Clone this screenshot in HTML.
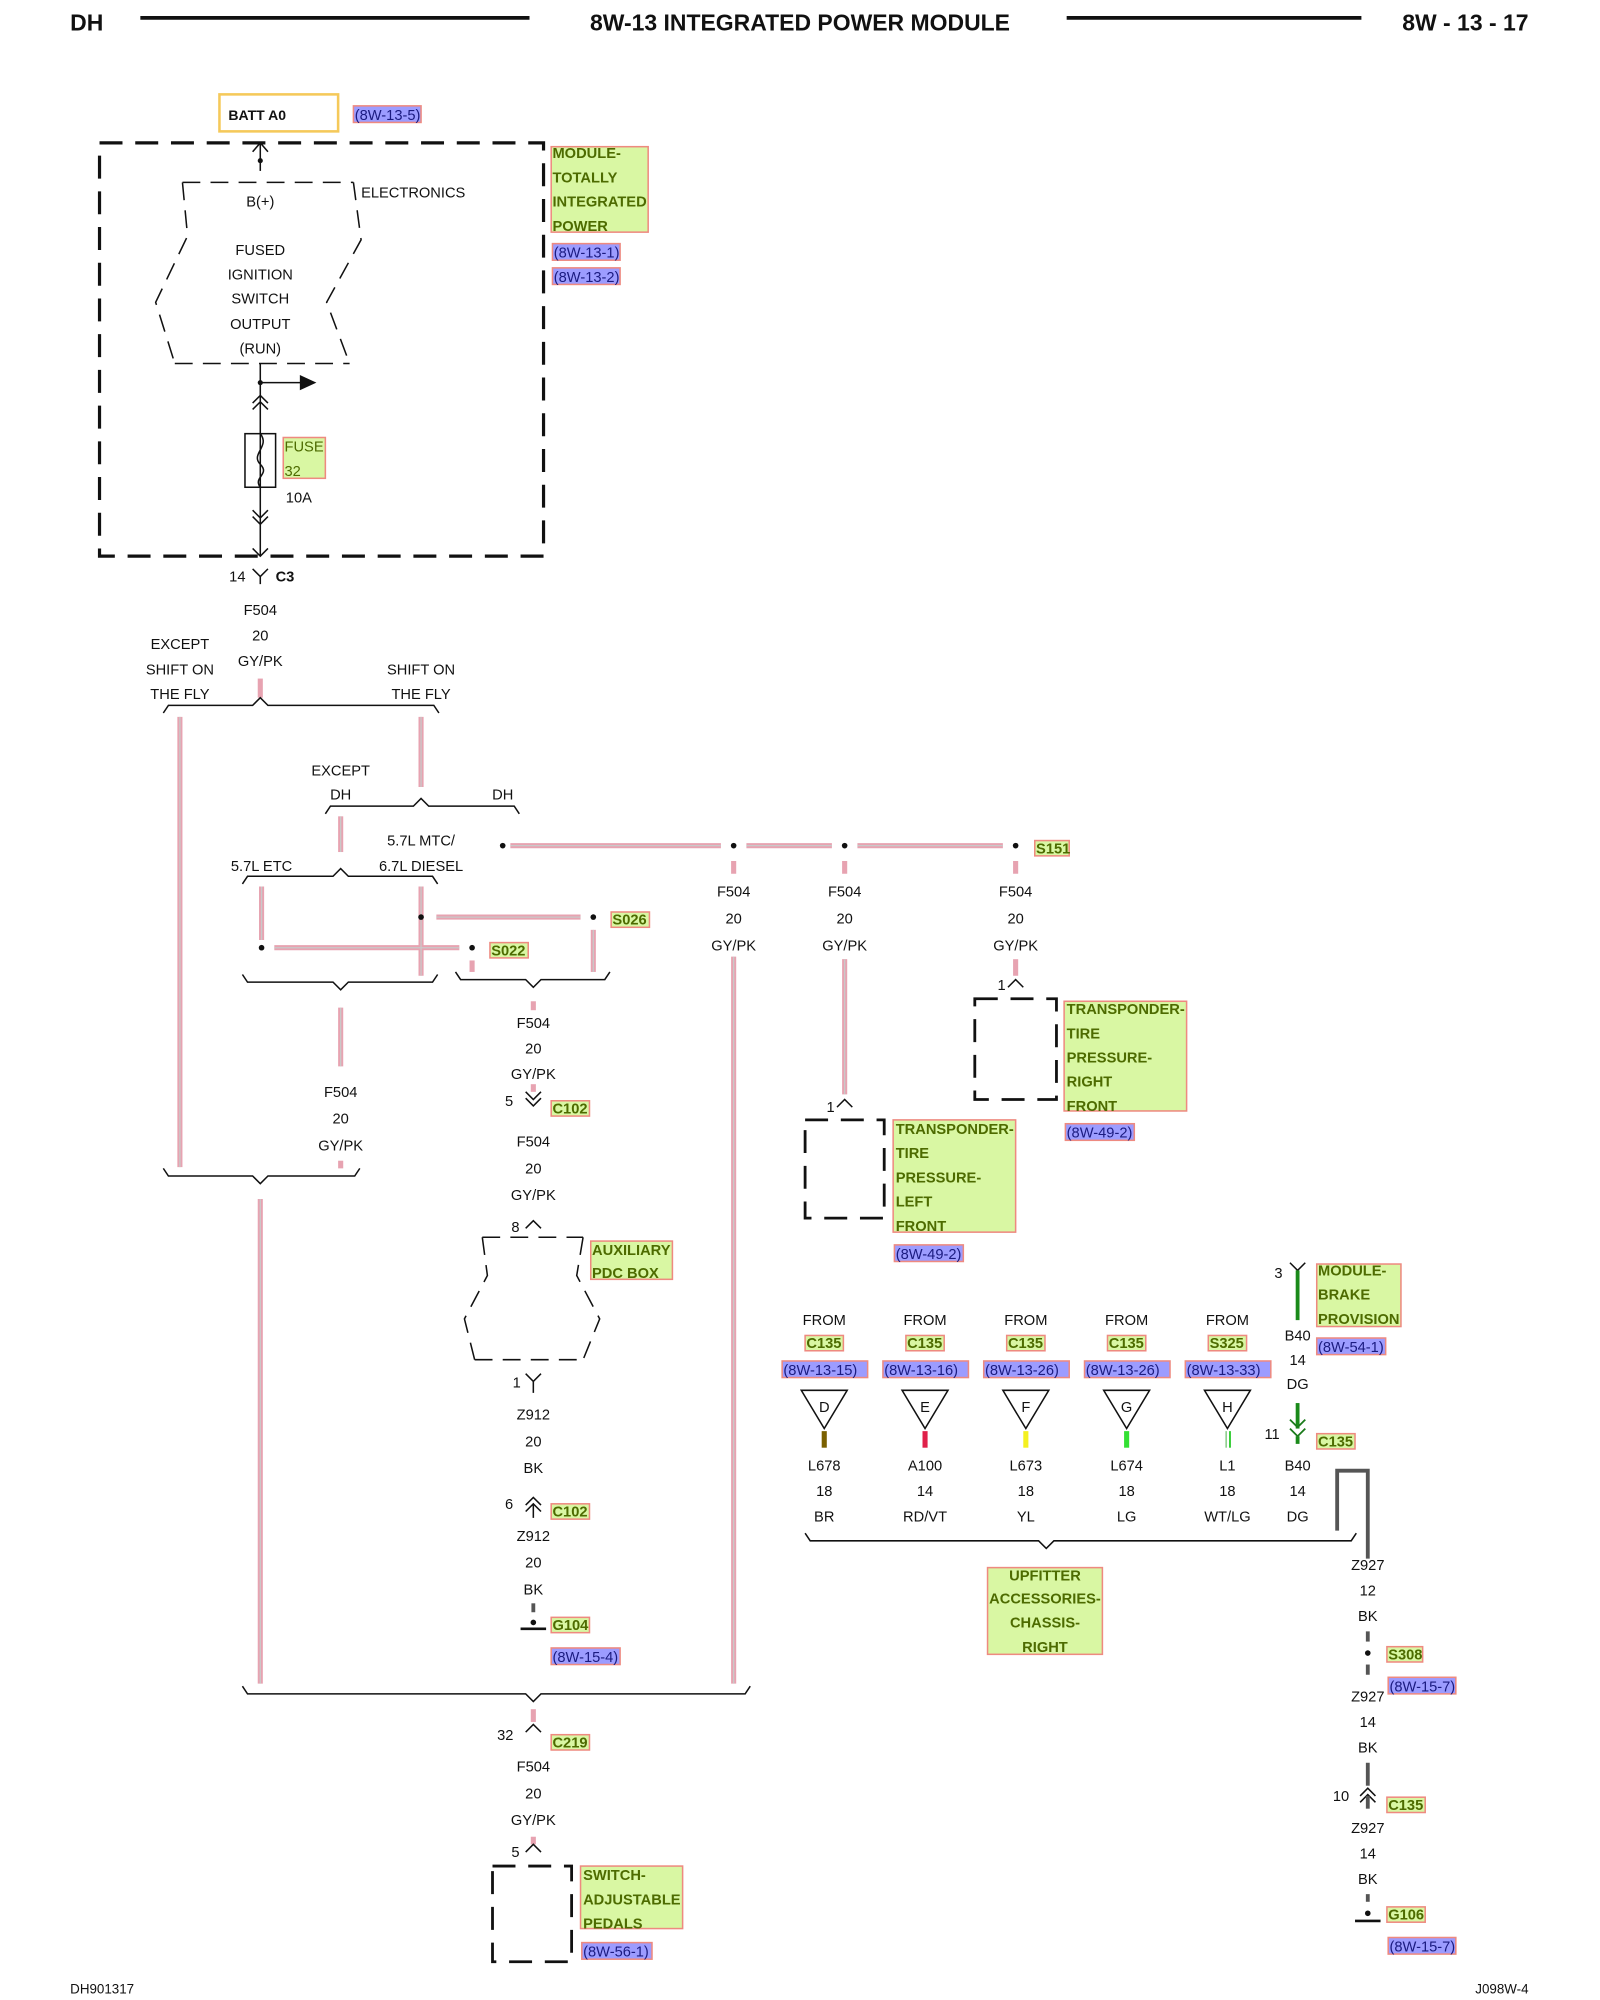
<!DOCTYPE html>
<html><head><meta charset="utf-8"><style>
html,body{margin:0;padding:0;background:#fff;}
svg{display:block}
text{font-family:"Liberation Sans",sans-serif;font-size:11.5px;fill:#111;text-anchor:middle}
.l{text-anchor:start}
.hd{font-size:18px;font-weight:bold}
.g{fill:#d9f7a3;stroke:#ee8a80;stroke-width:1.2}
.gt{fill:#4d6b00;font-weight:bold;text-anchor:start}
.b{fill:#9c9cff;stroke:#ee8a80;stroke-width:1.2}
.bt{fill:#1b1b80;text-anchor:start}
.w{stroke:#e7a3b1;stroke-width:4;fill:none}
.wc{stroke:#c9c9c9;stroke-width:1;fill:none}
.k{stroke:#111;stroke-width:1.2;fill:none}
.d{stroke:#111;stroke-width:2.5;fill:none;stroke-dasharray:18 10}
.ds{stroke:#111;stroke-width:1.2;fill:none;stroke-dasharray:14 8}
</style></head><body>
<svg width="1600" height="2000" viewBox="0 0 1254 1568" preserveAspectRatio="none">
<!-- header -->
<text class="hd l" x="55" y="24">DH</text>
<line x1="110" y1="14" x2="415" y2="14" stroke="#111" stroke-width="3"/>
<text class="hd" x="627" y="24">8W-13 INTEGRATED POWER MODULE</text>
<line x1="836" y1="14" x2="1067" y2="14" stroke="#111" stroke-width="3"/>
<text class="hd" x="1198" y="24" style="text-anchor:end">8W - 13 - 17</text>

<!-- BATT -->
<rect x="172" y="74" width="93" height="29" fill="#fff" stroke="#f5c95a" stroke-width="2"/>
<text class="l" x="179" y="94" style="font-weight:bold;font-size:11px">BATT A0</text>
<rect class="b" x="277" y="83" width="53" height="13"/><text class="bt" x="278" y="94">(8W-13-5)</text>

<rect class="d" x="78" y="112" width="348" height="324"/>
<line class="k" x1="204" y1="112" x2="204" y2="134"/>
<path class="k" d="M198,119 L204,112 L210,119"/>
<circle cx="204" cy="126" r="2" fill="#111"/>
<path class="ds" d="M143,143 L277,143 M277,143 L283,188 L256,237 L274,285 M143,143 L147,185 L122,237 L137,285 M137,285 L274,285"/>
<text x="204" y="162">B(+)</text>
<text class="l" x="283" y="155">ELECTRONICS</text>
<text x="204" y="200">FUSED</text><text x="204" y="219">IGNITION</text><text x="204" y="238">SWITCH</text><text x="204" y="258">OUTPUT</text><text x="204" y="277">(RUN)</text>
<line class="k" x1="204" y1="285" x2="204" y2="436"/>
<circle cx="204" cy="300" r="2" fill="#111"/>
<line class="k" x1="204" y1="300" x2="236" y2="300"/><path d="M235,294 L248,300 L235,306Z" fill="#111"/>
<path class="k" d="M198,316 L204,310 L210,316 M198,321 L204,315 L210,321"/>
<rect class="k" x="192" y="340" width="24" height="42" fill="#fff"/>
<path class="k" d="M204,340 C212,350 196,356 204,364 C212,372 198,374 204,382"/>
<rect class="g" x="222" y="343" width="33" height="32"/><text class="gt" x="223" y="354" style="font-weight:normal">FUSE</text><text class="gt" x="223" y="373" style="font-weight:normal">32</text>
<text class="l" x="224" y="394">10A</text>
<path class="k" d="M198,400 L204,406 L210,400 M198,405 L204,411 L210,405 M198,430 L204,436 L210,430"/>
<rect class="g" x="432" y="115" width="76" height="67"/>
<text class="gt" x="433" y="124">MODULE-</text><text class="gt" x="433" y="143">TOTALLY</text><text class="gt" x="433" y="162">INTEGRATED</text><text class="gt" x="433" y="181">POWER</text>
<rect class="b" x="433" y="191" width="53" height="13"/><text class="bt" x="434" y="202">(8W-13-1)</text>
<rect class="b" x="433" y="210" width="53" height="13"/><text class="bt" x="434" y="221">(8W-13-2)</text>

<!-- C3 -->
<text x="186" y="456">14</text>
<path class="k" d="M198,446 L204,452 L210,446 M204,452 L204,458"/>
<text class="l" x="216" y="456" style="font-weight:bold">C3</text>
<text x="204" y="482">F504</text><text x="204" y="502">20</text><text x="204" y="522">GY/PK</text>

<!-- wires -->
<g class="w">
<path d="M204,532 V547"/>
<path d="M141,562 V915"/>
<path d="M330,562 V617"/>
<path d="M267,640 V668"/>
<path d="M205,695 V737"/>
<path d="M330,695 V765"/>
<path d="M400,663 H565 M585,663 H652 M672,663 H786"/>
<path d="M342,719 H455"/>
<path d="M215,743 H360"/>
<path d="M465,729 V762"/>
<path d="M370,753 V762"/>
<path d="M267,790 V836"/>
<path d="M267,910 V916"/>
<path d="M418,785 V792"/>
<path d="M418,850 V856"/>
<path d="M575,675 V685 M662,675 V685 M796,675 V685"/>
<path d="M575,750 V1320"/>
<path d="M662,752 V858"/>
<path d="M796,752 V765"/>
<path d="M204,940 V1320"/>
<path d="M418,1340 V1350"/>
<path d="M418,1440 V1446"/>
</g>
<g class="wc">
<path d="M141,562 V915 M330,562 V617 M267,640 V668 M205,695 V737 M330,695 V765 M400,663 H565 M585,663 H652 M672,663 H786 M342,719 H455 M215,743 H360 M465,729 V762 M267,790 V836 M575,750 V1320 M662,752 V858 M204,940 V1320"/>
</g>

<!-- brackets -->
<g class="k">
<path d="M128,559 L132,553 L198,553 L204,547 L210,553 L340,553 L344,559"/>
<path d="M255,638 L259,632 L324,632 L330,626 L336,632 L403,632 L407,638"/>
<path d="M190,693 L194,687 L261,687 L267,681 L273,687 L339,687 L343,693"/>
<path d="M190,764 L194,770 L261,770 L267,776 L273,770 L339,770 L343,764"/>
<path d="M357,762 L361,768 L412,768 L418,774 L424,768 L474,768 L478,762"/>
<path d="M128,916 L132,922 L198,922 L204,928 L210,922 L278,922 L282,916"/>
<path d="M190,1322 L194,1328 L412,1328 L418,1334 L424,1328 L584,1328 L588,1322"/>
<path d="M631,1202 L635,1208 L814,1208 L820,1214 L826,1208 L1059,1208 L1063,1202"/>
</g>
<text x="141" y="509">EXCEPT</text><text x="141" y="529">SHIFT ON</text><text x="141" y="548">THE FLY</text>
<text x="330" y="529">SHIFT ON</text><text x="330" y="548">THE FLY</text>
<text x="267" y="608">EXCEPT</text><text x="267" y="627">DH</text><text x="394" y="627">DH</text>
<text x="205" y="683">5.7L ETC</text><text x="330" y="663">5.7L MTC/</text><text x="330" y="683">6.7L DIESEL</text>

<g fill="#111">
<circle cx="394" cy="663" r="2.2"/><circle cx="575" cy="663" r="2.2"/><circle cx="662" cy="663" r="2.2"/><circle cx="796" cy="663" r="2.2"/>
<circle cx="330" cy="719" r="2.2"/><circle cx="465" cy="719" r="2.2"/>
<circle cx="205" cy="743" r="2.2"/><circle cx="370" cy="743" r="2.2"/>
</g>
<rect class="g" x="811" y="659" width="27" height="12"/><text class="gt" x="812" y="669">S151</text>
<rect class="g" x="479" y="715" width="30" height="12"/><text class="gt" x="480" y="725">S026</text>
<rect class="g" x="384" y="739" width="30" height="12"/><text class="gt" x="385" y="749">S022</text>

<text x="267" y="860">F504</text><text x="267" y="881">20</text><text x="267" y="902">GY/PK</text>

<!-- center column -->
<text x="418" y="806">F504</text><text x="418" y="826">20</text><text x="418" y="846">GY/PK</text>
<text x="399" y="867">5</text>
<path class="k" d="M412,856 L418,862 L424,856 M412,861 L418,867 L424,861"/>
<rect class="g" x="432" y="863" width="30" height="12"/><text class="gt" x="433" y="873">C102</text>
<text x="418" y="899">F504</text><text x="418" y="920">20</text><text x="418" y="941">GY/PK</text>
<text x="404" y="966">8</text>
<path class="k" d="M412,963 L418,957 L424,963"/>
<path class="ds" d="M378,970 L457,970 M378,970 L382,1000 L364,1034 L372,1066 M457,970 L452,1000 L470,1034 L457,1066 M372,1066 L457,1066"/>
<rect class="g" x="463" y="973" width="64" height="30"/><text class="gt" x="464" y="984">AUXILIARY</text><text class="gt" x="464" y="1002">PDC BOX</text>
<text x="405" y="1088">1</text>
<path class="k" d="M412,1077 L418,1083 L424,1077 M418,1083 L418,1092"/>
<text x="418" y="1113">Z912</text><text x="418" y="1134">20</text><text x="418" y="1155">BK</text>
<text x="399" y="1183">6</text>
<path class="k" d="M412,1180 L418,1174 L424,1180 M412,1185 L418,1179 L424,1185 M418,1180 V1190"/>
<rect class="g" x="432" y="1179" width="30" height="12"/><text class="gt" x="433" y="1189">C102</text>
<text x="418" y="1208">Z912</text><text x="418" y="1229">20</text><text x="418" y="1250">BK</text>
<line x1="418" y1="1257" x2="418" y2="1264" stroke="#555" stroke-width="3"/>
<circle cx="418" cy="1272" r="2.2" fill="#111"/>
<line x1="408" y1="1277" x2="428" y2="1277" stroke="#111" stroke-width="2"/>
<rect class="g" x="432" y="1268" width="30" height="12"/><text class="gt" x="433" y="1278">G104</text>
<rect class="b" x="432" y="1292" width="54" height="13"/><text class="bt" x="433" y="1303">(8W-15-4)</text>

<text x="396" y="1364">32</text>
<path class="k" d="M412,1358 L418,1352 L424,1358"/>
<rect class="g" x="432" y="1360" width="30" height="12"/><text class="gt" x="433" y="1370">C219</text>
<text x="418" y="1389">F504</text><text x="418" y="1410">20</text><text x="418" y="1431">GY/PK</text>
<text x="404" y="1456">5</text>
<path class="k" d="M412,1452 L418,1446 L424,1452"/>
<rect class="d" x="386" y="1463" width="62" height="75" style="stroke-width:2.2"/>
<rect class="g" x="455" y="1463" width="80" height="49"/>
<text class="gt" x="457" y="1474">SWITCH-</text><text class="gt" x="457" y="1493">ADJUSTABLE</text><text class="gt" x="457" y="1512">PEDALS</text>
<rect class="b" x="456" y="1523" width="55" height="13"/><text class="bt" x="457" y="1534">(8W-56-1)</text>

<!-- right branches -->
<text x="575" y="703">F504</text><text x="575" y="724">20</text><text x="575" y="745">GY/PK</text>
<text x="662" y="703">F504</text><text x="662" y="724">20</text><text x="662" y="745">GY/PK</text>
<text x="796" y="703">F504</text><text x="796" y="724">20</text><text x="796" y="745">GY/PK</text>
<text x="785" y="776">1</text>
<path class="k" d="M790,774 L796,768 L802,774"/>
<rect class="d" x="764" y="783" width="64" height="79" style="stroke-width:2.2"/>
<rect class="g" x="834" y="785" width="96" height="86"/>
<text class="gt" x="836" y="795">TRANSPONDER-</text><text class="gt" x="836" y="814">TIRE</text><text class="gt" x="836" y="833">PRESSURE-</text><text class="gt" x="836" y="852">RIGHT</text><text class="gt" x="836" y="871">FRONT</text>
<rect class="b" x="835" y="881" width="54" height="13"/><text class="bt" x="836" y="892">(8W-49-2)</text>
<text x="651" y="872">1</text>
<path class="k" d="M656,868 L662,862 L668,868"/>
<rect class="d" x="631" y="878" width="62" height="77" style="stroke-width:2.2"/>
<rect class="g" x="700" y="878" width="96" height="88"/>
<text class="gt" x="702" y="889">TRANSPONDER-</text><text class="gt" x="702" y="908">TIRE</text><text class="gt" x="702" y="927">PRESSURE-</text><text class="gt" x="702" y="946">LEFT</text><text class="gt" x="702" y="965">FRONT</text>
<rect class="b" x="701" y="976" width="54" height="13"/><text class="bt" x="702" y="987">(8W-49-2)</text>

<!-- FROM columns -->
<g>
<text x="646" y="1039">FROM</text><text x="725" y="1039">FROM</text><text x="804" y="1039">FROM</text><text x="883" y="1039">FROM</text><text x="962" y="1039">FROM</text>
<rect class="g" x="631" y="1047" width="30" height="12"/><text class="gt" x="632" y="1057">C135</text>
<rect class="g" x="710" y="1047" width="30" height="12"/><text class="gt" x="711" y="1057">C135</text>
<rect class="g" x="789" y="1047" width="30" height="12"/><text class="gt" x="790" y="1057">C135</text>
<rect class="g" x="868" y="1047" width="30" height="12"/><text class="gt" x="869" y="1057">C135</text>
<rect class="g" x="947" y="1047" width="30" height="12"/><text class="gt" x="948" y="1057">S325</text>
<rect class="b" x="613" y="1067" width="67" height="13"/><text class="bt" x="614" y="1078">(8W-13-15)</text>
<rect class="b" x="692" y="1067" width="67" height="13"/><text class="bt" x="693" y="1078">(8W-13-16)</text>
<rect class="b" x="771" y="1067" width="67" height="13"/><text class="bt" x="772" y="1078">(8W-13-26)</text>
<rect class="b" x="850" y="1067" width="67" height="13"/><text class="bt" x="851" y="1078">(8W-13-26)</text>
<rect class="b" x="929" y="1067" width="67" height="13"/><text class="bt" x="930" y="1078">(8W-13-33)</text>
<path class="k" d="M628,1090 L664,1090 L646,1120Z M707,1090 L743,1090 L725,1120Z M786,1090 L822,1090 L804,1120Z M865,1090 L901,1090 L883,1120Z M944,1090 L980,1090 L962,1120Z"/>
<text x="646" y="1107">D</text><text x="725" y="1107">E</text><text x="804" y="1107">F</text><text x="883" y="1107">G</text><text x="962" y="1107">H</text>
<line x1="646" y1="1122" x2="646" y2="1135" stroke="#7a6000" stroke-width="4"/>
<line x1="725" y1="1122" x2="725" y2="1135" stroke="#e0204a" stroke-width="4"/>
<line x1="804" y1="1122" x2="804" y2="1135" stroke="#f4f020" stroke-width="4"/>
<line x1="883" y1="1122" x2="883" y2="1135" stroke="#33e033" stroke-width="4"/>
<line x1="961" y1="1122" x2="961" y2="1135" stroke="#88cc88" stroke-width="1.2"/><line x1="964" y1="1122" x2="964" y2="1135" stroke="#33cc33" stroke-width="1.5"/>
<text x="646" y="1153">L678</text><text x="646" y="1173">18</text><text x="646" y="1193">BR</text>
<text x="725" y="1153">A100</text><text x="725" y="1173">14</text><text x="725" y="1193">RD/VT</text>
<text x="804" y="1153">L673</text><text x="804" y="1173">18</text><text x="804" y="1193">YL</text>
<text x="883" y="1153">L674</text><text x="883" y="1173">18</text><text x="883" y="1193">LG</text>
<text x="962" y="1153">L1</text><text x="962" y="1173">18</text><text x="962" y="1193">WT/LG</text>
</g>
<rect class="g" x="774" y="1229" width="90" height="68"/>
<text class="gt" x="819" y="1239" style="text-anchor:middle">UPFITTER</text><text class="gt" x="819" y="1257" style="text-anchor:middle">ACCESSORIES-</text><text class="gt" x="819" y="1276" style="text-anchor:middle">CHASSIS-</text><text class="gt" x="819" y="1295" style="text-anchor:middle">RIGHT</text>

<!-- B40 -->
<text x="1002" y="1002">3</text>
<path class="k" d="M1011,990 L1017,996 L1023,990"/>
<line x1="1017" y1="996" x2="1017" y2="1035" stroke="#1a8a1a" stroke-width="3"/>
<rect class="g" x="1032" y="991" width="66" height="49"/>
<text class="gt" x="1033" y="1000">MODULE-</text><text class="gt" x="1033" y="1019">BRAKE</text><text class="gt" x="1033" y="1038">PROVISION</text>
<rect class="b" x="1032" y="1049" width="54" height="13"/><text class="bt" x="1033" y="1060">(8W-54-1)</text>
<text x="1017" y="1051">B40</text><text x="1017" y="1070">14</text><text x="1017" y="1089">DG</text>
<line x1="1017" y1="1100" x2="1017" y2="1120" stroke="#1a8a1a" stroke-width="3"/>
<path d="M1011,1113 L1017,1119 L1023,1113 M1011,1120 L1017,1126 L1023,1120" stroke="#1a7a1a" stroke-width="1.4" fill="none"/>
<line x1="1017" y1="1126" x2="1017" y2="1132" stroke="#1a8a1a" stroke-width="3"/>
<text x="997" y="1128">11</text>
<rect class="g" x="1032" y="1124" width="30" height="12"/><text class="gt" x="1033" y="1134">C135</text>
<text x="1017" y="1153">B40</text><text x="1017" y="1173">14</text><text x="1017" y="1193">DG</text>
<path d="M1048,1200 V1153 H1072 V1222" stroke="#555" stroke-width="3" fill="none"/>
<text x="1072" y="1231">Z927</text><text x="1072" y="1251">12</text><text x="1072" y="1271">BK</text>
<line x1="1072" y1="1279" x2="1072" y2="1287" stroke="#555" stroke-width="3"/>
<circle cx="1072" cy="1296" r="2.2" fill="#111"/>
<rect class="g" x="1087" y="1291" width="28" height="12"/><text class="gt" x="1088" y="1301">S308</text>
<line x1="1072" y1="1305" x2="1072" y2="1313" stroke="#555" stroke-width="3"/>
<rect class="b" x="1088" y="1315" width="53" height="13"/><text class="bt" x="1089" y="1326">(8W-15-7)</text>
<text x="1072" y="1334">Z927</text><text x="1072" y="1354">14</text><text x="1072" y="1374">BK</text>
<line x1="1072" y1="1382" x2="1072" y2="1400" stroke="#555" stroke-width="3"/>
<text x="1051" y="1412">10</text>
<path class="k" d="M1066,1408 L1072,1402 L1078,1408 M1066,1413 L1072,1407 L1078,1413"/>
<line x1="1072" y1="1408" x2="1072" y2="1418" stroke="#555" stroke-width="3"/>
<rect class="g" x="1087" y="1409" width="30" height="12"/><text class="gt" x="1088" y="1419">C135</text>
<text x="1072" y="1437">Z927</text><text x="1072" y="1457">14</text><text x="1072" y="1477">BK</text>
<line x1="1072" y1="1485" x2="1072" y2="1491" stroke="#555" stroke-width="3"/>
<circle cx="1072" cy="1500" r="2.2" fill="#111"/>
<line x1="1062" y1="1506" x2="1082" y2="1506" stroke="#111" stroke-width="2"/>
<rect class="g" x="1087" y="1495" width="30" height="12"/><text class="gt" x="1088" y="1505">G106</text>
<rect class="b" x="1088" y="1519" width="53" height="13"/><text class="bt" x="1089" y="1530">(8W-15-7)</text>

<text class="l" x="55" y="1563" style="font-size:10.5px">DH901317</text>
<text x="1198" y="1563" style="text-anchor:end;font-size:10.5px">J098W-4</text>
</svg>
</body></html>
